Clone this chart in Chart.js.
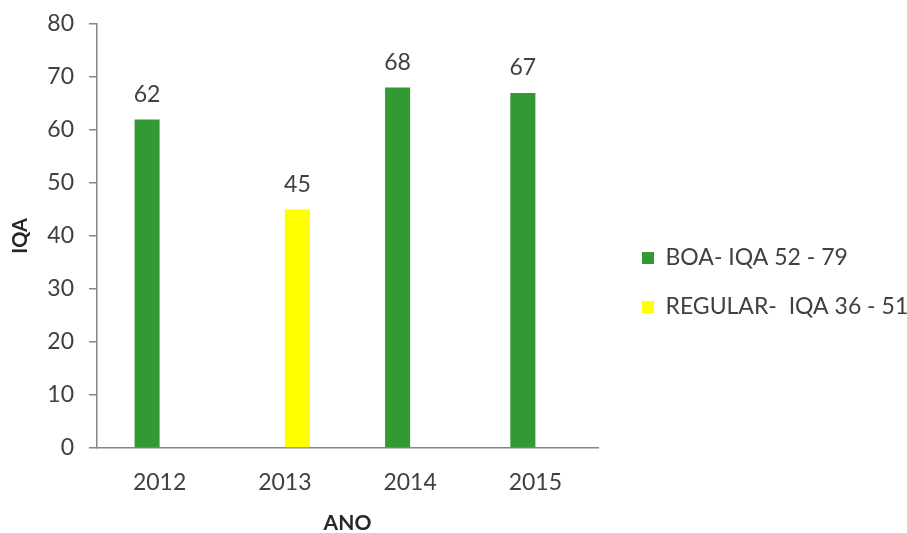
<!DOCTYPE html>
<html>
<head>
<meta charset="utf-8">
<script src="https://cdn.jsdelivr.net/npm/chart.js@4/dist/chart.umd.min.js"></script>
<style>
html,body{margin:0;padding:0;background:#fff;}
#wrap{width:907px;height:533px;position:relative;}
</style>
</head>
<body>
<div id="wrap"><canvas id="c"></canvas></div>
<script>
const categories = ['2012', '2013', '2014', '2015'];
const boaValues = [62, null, 68, 67];
const regularValues = [null, 45, null, null];
const seriesNames = ['BOA- IQA 52 - 79', 'REGULAR-  IQA 36 - 51'];
const yTicks = [0, 10, 20, 30, 40, 50, 60, 70, 80];
const xTitle = 'ANO';
const yTitle = 'IQA';

const FONT = 'Lato, "Open Sans", sans-serif';
const TXT = '#404040';
const AXIS = '#868686';
const LEGEND_WIDTH = 291;

const dataLabels = {
  id: 'dataLabels',
  afterDatasetsDraw(chart) {
    const ctx = chart.ctx;
    ctx.save();
    ctx.font = '23px ' + FONT;
    ctx.fillStyle = TXT;
    ctx.textAlign = 'center';
    ctx.textBaseline = 'middle';
    chart.data.datasets.forEach((ds, di) => {
      const meta = chart.getDatasetMeta(di);
      meta.data.forEach((el, i) => {
        const v = ds.data[i];
        if (v === null || v === undefined) return;
        ctx.fillText(String(v), el.x, el.y - 25);
      });
    });
    ctx.restore();
  }
};

const legendWidthFix = {
  id: 'legendWidthFix',
  beforeLayout(chart) {
    const lg = chart.legend;
    if (lg && !lg._fixed) {
      const orig = lg.fit.bind(lg);
      lg.fit = function () { orig(); this.width = LEGEND_WIDTH; };
      lg._fixed = true;
    }
  }
};

new Chart(document.getElementById('c'), {
  type: 'bar',
  data: {
    labels: categories,
    datasets: [
      { label: seriesNames[0], data: boaValues, backgroundColor: '#339933', borderWidth: 0 },
      { label: seriesNames[1], data: regularValues, backgroundColor: '#FFFF00', borderWidth: 0 }
    ]
  },
  options: {
    responsive: true,
    maintainAspectRatio: false,
    animation: false,
    datasets: { bar: { categoryPercentage: 0.4, barPercentage: 1.0 } },
    layout: { padding: { top: 0, left: 8.5, right: 0, bottom: 0 } },
    plugins: {
      tooltip: { enabled: false },
      legend: {
        position: 'right',
        title: { display: true, text: '', padding: { top: 14, bottom: 0 }, font: { size: 15 } },
        labels: {
          boxWidth: 12, boxHeight: 12, padding: 26,
          color: TXT, font: { family: FONT, size: 23 }
        }
      }
    },
    scales: {
      x: {
        grid: { drawOnChartArea: false, drawTicks: false },
        border: { color: AXIS, width: 1.5 },
        ticks: { color: TXT, padding: 21, font: { family: FONT, size: 23 } },
        title: { display: true, text: xTitle, color: '#262626', padding: { top: -7.2, bottom: -2.6 }, font: { family: FONT, size: 21, weight: 'bold' } }
      },
      y: {
        min: 0, max: 80,
        afterBuildTicks(axis) { axis.ticks = yTicks.map(v => ({ value: v })); },
        afterFit(scale) { scale.paddingTop = 24; },
        grid: { drawOnChartArea: false, drawTicks: true, tickLength: 8, color: AXIS, lineWidth: 1.5 },
        border: { color: AXIS, width: 1.5 },
        ticks: { color: TXT, padding: 15, font: { family: FONT, size: 23 } },
        title: { display: true, text: yTitle, color: '#262626', padding: { top: 0, bottom: -0.2 }, font: { family: FONT, size: 20, weight: 'bold' } }
      },
      gap: {
        position: 'right',
        display: true,
        grid: { display: false },
        border: { display: false },
        ticks: { display: false },
        afterFit(scale) { scale.width = 18; }
      }
    }
  },
  plugins: [dataLabels, legendWidthFix]
});
</script>
</body>
</html>
